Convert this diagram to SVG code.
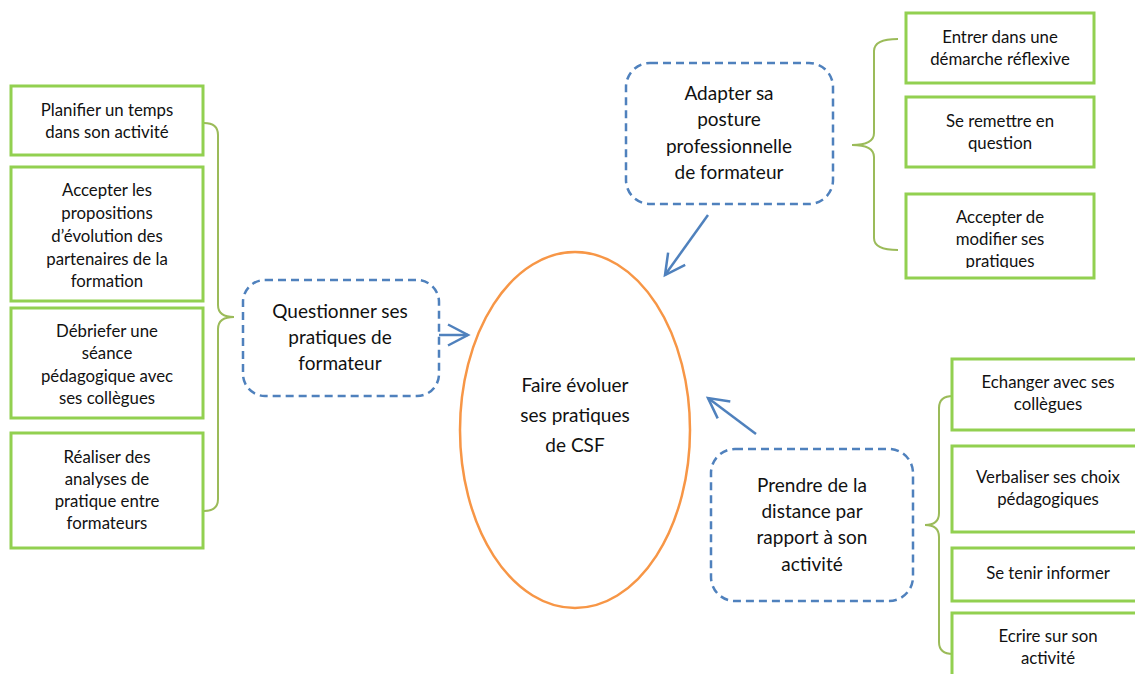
<svg xmlns="http://www.w3.org/2000/svg" width="1135" height="674" viewBox="0 0 1135 674">
<style>
text{font-family:Lato,"Open Sans","Liberation Sans",sans-serif;fill:#111;text-anchor:middle}
.g rect{fill:#fff;stroke:#92D050;stroke-width:3}
.g text{font-size:16.8px}
.d rect{fill:#fff;stroke:#4F81BD;stroke-width:2.5;stroke-dasharray:8 5}
.d text{font-size:19px}
.br{fill:none;stroke:#9BBB59;stroke-width:2}
.ar{fill:none;stroke:#4F81BD;stroke-width:2.5}
</style>
<defs>
<marker id="ah" markerUnits="userSpaceOnUse" markerWidth="30" markerHeight="30" viewBox="-24 -15 30 30" refX="0" refY="0" orient="auto">
<path d="M-20,-10.5 L0,0 L-20,10.5" fill="none" stroke="#4F81BD" stroke-width="2.5"/>
</marker>
<clipPath id="clipC"><rect x="906" y="194" width="190" height="74"/></clipPath>
</defs>
<rect width="1135" height="674" fill="#fff"/>

<g id="center">
<ellipse cx="575" cy="430" rx="115" ry="178" fill="#fff" stroke="#F79646" stroke-width="2.5"/>
<text x="575" y="392" font-size="19">Faire évoluer</text>
<text x="575" y="422" font-size="19">ses pratiques</text>
<text x="575" y="452" font-size="19">de CSF</text>
</g>

<g id="connectors">
<path class="br" d="M204,123 Q218,123 218,135 L218,305 Q218,317 234,317 Q218,317 218,329 L218,499 Q218,511 204,511"/>
<path class="br" d="M898,39 Q874,39 874,51 L874,133 Q874,145 852,145 Q874,145 874,157 L874,238 Q874,250 898,250"/>
<path class="br" d="M953,396 Q939,396 939,408 L939,513 Q939,525 925,525 Q939,525 939,537 L939,642 Q939,654 953,654"/>
<line class="ar" x1="439" y1="335" x2="468" y2="335" marker-end="url(#ah)"/>
<line class="ar" x1="708" y1="215" x2="665" y2="275" marker-end="url(#ah)"/>
<line class="ar" x1="756" y1="434" x2="708" y2="398" marker-end="url(#ah)"/>
</g>

<g id="questionner" class="d">
<rect x="243" y="280" width="196" height="116" rx="22"/>
<text x="340" y="318">Questionner ses</text>
<text x="340" y="344">pratiques de</text>
<text x="340" y="370">formateur</text>
</g>

<g id="adapter" class="d">
<rect x="626" y="63" width="207" height="141" rx="24"/>
<text x="729" y="100">Adapter sa</text>
<text x="729" y="126">posture</text>
<text x="729" y="153">professionnelle</text>
<text x="729" y="179">de formateur</text>
</g>

<g id="prendre" class="d">
<rect x="711" y="449" width="202" height="152" rx="24"/>
<text x="812" y="492">Prendre de la</text>
<text x="812" y="518">distance par</text>
<text x="812" y="544">rapport à son</text>
<text x="812" y="571">activité</text>
</g>

<g id="planifier" class="g">
<rect x="11" y="86" width="192" height="69"/>
<text x="107" y="116">Planifier un temps</text>
<text x="107" y="138">dans son activité</text>
</g>
<g id="accepter-propositions" class="g">
<rect x="11" y="167" width="192" height="134"/>
<text x="107" y="196">Accepter les</text>
<text x="107" y="219">propositions</text>
<text x="107" y="242">d’évolution des</text>
<text x="107" y="265">partenaires de la</text>
<text x="107" y="287">formation</text>
</g>
<g id="debriefer" class="g">
<rect x="11" y="308" width="192" height="110"/>
<text x="107" y="337">Débriefer une</text>
<text x="107" y="359">séance</text>
<text x="107" y="382">pédagogique avec</text>
<text x="107" y="404">ses collègues</text>
</g>
<g id="realiser" class="g">
<rect x="11" y="433" width="192" height="115"/>
<text x="107" y="463">Réaliser des</text>
<text x="107" y="485">analyses de</text>
<text x="107" y="507">pratique entre</text>
<text x="107" y="529">formateurs</text>
</g>

<g id="entrer" class="g">
<rect x="906" y="13" width="188" height="70"/>
<text x="1000" y="43">Entrer dans une</text>
<text x="1000" y="65">démarche réflexive</text>
</g>
<g id="remettre" class="g">
<rect x="906" y="97" width="188" height="70"/>
<text x="1000" y="127">Se remettre en</text>
<text x="1000" y="149">question</text>
</g>
<g id="accepter-modifier" class="g">
<rect x="906" y="194" width="188" height="84"/>
<g clip-path="url(#clipC)">
<text x="1000" y="223">Accepter de</text>
<text x="1000" y="245">modifier ses</text>
<text x="1000" y="267">pratiques</text>
</g>
</g>

<g id="echanger" class="g">
<rect x="952" y="359" width="192" height="71"/>
<text x="1048" y="388">Echanger avec ses</text>
<text x="1048" y="410">collègues</text>
</g>
<g id="verbaliser" class="g">
<rect x="952" y="446" width="192" height="86"/>
<text x="1048" y="483">Verbaliser ses choix</text>
<text x="1048" y="505">pédagogiques</text>
</g>
<g id="tenir" class="g">
<rect x="952" y="548" width="192" height="53"/>
<text x="1048" y="579">Se tenir informer</text>
</g>
<g id="ecrire" class="g">
<rect x="952" y="613" width="192" height="80"/>
<text x="1048" y="642">Ecrire sur son</text>
<text x="1048" y="664">activité</text>
</g>
</svg>
